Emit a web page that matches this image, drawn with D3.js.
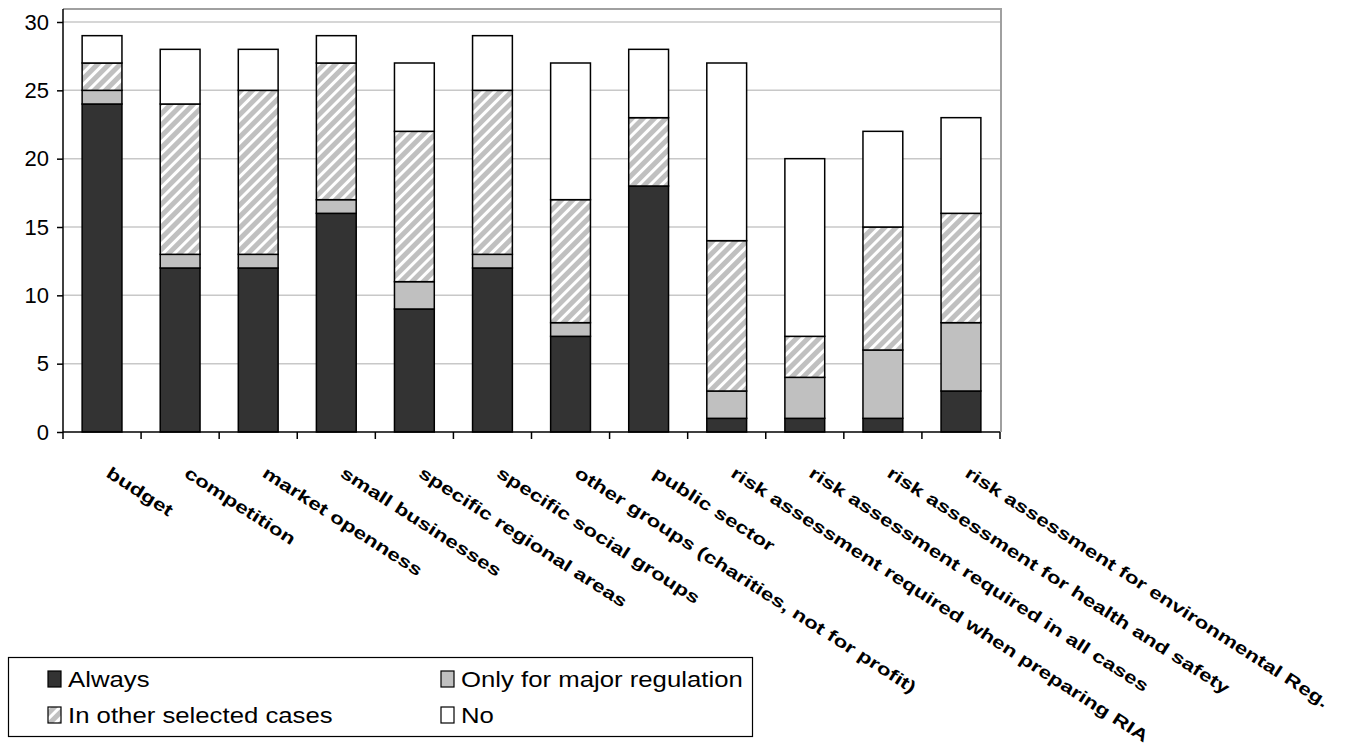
<!DOCTYPE html>
<html>
<head>
<meta charset="utf-8">
<script src="https://cdn.jsdelivr.net/npm/d3@7"></script>
<style>
  html, body { margin: 0; padding: 0; background: #fff; }
  svg { display: block; }
</style>
</head>
<body>
<svg id="chart" width="1352" height="747"></svg>
<script>
// Stacked counts per impact area
const categories = [
  "budget",
  "competition",
  "market openness",
  "small businesses",
  "specific regional areas",
  "specific social groups",
  "other groups (charities, not for profit)",
  "public sector",
  "risk assessment required when preparing RIA",
  "risk assessment required in all cases",
  "risk assessment for health and safety",
  "risk assessment for environmental Reg."
];
const seriesNames = ["Always", "Only for major regulation", "In other selected cases", "No"];
const always       = [24, 12, 12, 16,  9, 12,  7, 18,  1,  1,  1,  3];
const onlyMajor    = [ 1,  1,  1,  1,  2,  1,  1,  0,  2,  3,  5,  5];
const otherCases   = [ 2, 11, 12, 10, 11, 12,  9,  5, 11,  3,  9,  8];
const no           = [ 2,  4,  3,  2,  5,  4, 10,  5, 13, 13,  7,  7];
const yTicks = [0, 5, 10, 15, 20, 25, 30];

const svg = d3.select("#chart");

// Pattern for the hatched series
const defs = svg.append("defs");
const pat = defs.append("pattern")
  .attr("id", "hatch")
  .attr("patternUnits", "userSpaceOnUse")
  .attr("width", 8).attr("height", 8)
  .attr("patternTransform", "rotate(45)");
pat.append("rect").attr("width", 8).attr("height", 8).attr("fill", "#ffffff");
pat.append("rect").attr("x", 0).attr("width", 5).attr("height", 8).attr("fill", "#c0c0c0");

const fills = ["#333333", "#c0c0c0", "url(#hatch)", "#ffffff"];

const plot = { left: 63, right: 1000, top: 9, bottom: 432 };

const x = d3.scaleBand()
  .domain(categories)
  .range([plot.left, plot.right])
  .paddingInner(0.49)
  .paddingOuter(0.245);

const y = d3.scaleLinear()
  .domain([0, 30])
  .range([plot.bottom, 22]);

// Gridlines
svg.append("g")
  .selectAll("line")
  .data(yTicks.filter(d => d > 0))
  .join("line")
  .attr("x1", plot.left).attr("x2", plot.right)
  .attr("y1", d => y(d)).attr("y2", d => y(d))
  .attr("stroke", "#c8c8c8").attr("stroke-width", 1.5);

// Plot frame (top and right)
svg.append("path")
  .attr("d", `M${plot.left},${plot.top}H${plot.right + 1}V${plot.bottom}`)
  .attr("fill", "none").attr("stroke", "#a0a0a0").attr("stroke-width", 2);

// Stack data
const rows = categories.map((c, i) => ({
  cat: c,
  [seriesNames[0]]: always[i],
  [seriesNames[1]]: onlyMajor[i],
  [seriesNames[2]]: otherCases[i],
  [seriesNames[3]]: no[i]
}));
const stacked = d3.stack().keys(seriesNames)(rows);

svg.append("g")
  .selectAll("g")
  .data(stacked)
  .join("g")
  .attr("fill", (d, i) => fills[i])
  .selectAll("rect")
  .data(d => d.filter(s => s[1] - s[0] > 0))
  .join("rect")
  .attr("x", d => x(d.data.cat))
  .attr("width", x.bandwidth())
  .attr("y", d => y(d[1]))
  .attr("height", d => y(d[0]) - y(d[1]))
  .attr("stroke", "#000")
  .attr("stroke-width", 1.5);

// Y axis
const yAxis = svg.append("g")
  .attr("transform", `translate(${plot.left},0)`)
  .call(d3.axisLeft(y).tickValues(yTicks).tickSize(6).tickPadding(8).tickSizeOuter(0));
yAxis.select(".domain").attr("d", `M0,${plot.top}V${plot.bottom}`).attr("stroke", "#000").attr("stroke-width", 1.5);
yAxis.selectAll(".tick line").attr("stroke", "#000").attr("stroke-width", 1.5);
yAxis.selectAll(".tick text")
  .attr("font-family", "'Liberation Sans', Arial, sans-serif")
  .attr("font-size", 22)
  .attr("fill", "#000");

// X axis: baseline with ticks at category boundaries
const xg = svg.append("g");
xg.append("line")
  .attr("x1", plot.left).attr("x2", plot.right)
  .attr("y1", plot.bottom).attr("y2", plot.bottom)
  .attr("stroke", "#000").attr("stroke-width", 1.5);
const bounds = d3.range(categories.length + 1).map(i => plot.left + i * (plot.right - plot.left) / categories.length);
xg.selectAll("line.tk")
  .data(bounds)
  .join("line")
  .attr("class", "tk")
  .attr("x1", d => d).attr("x2", d => d)
  .attr("y1", plot.bottom).attr("y2", plot.bottom + 7)
  .attr("stroke", "#000").attr("stroke-width", 1.5);

// Rotated category labels
xg.selectAll("text")
  .data(categories)
  .join("text")
  .attr("transform", d => `translate(${x(d) + x.bandwidth() / 2 + 3},476) rotate(32.8) scale(1.33,1)`)
  .attr("font-family", "'Liberation Sans', Arial, sans-serif")
  .attr("font-weight", "bold")
  .attr("font-size", 17)
  .attr("fill", "#000")
  .text(d => d);

// Legend
const lg = svg.append("g");
lg.append("rect")
  .attr("x", 8.5).attr("y", 657.5).attr("width", 744).attr("height", 79)
  .attr("fill", "#fff").attr("stroke", "#000").attr("stroke-width", 1.2);
const legendPos = [
  { sx: 48, ty: 679 }, { sx: 441, ty: 679 },
  { sx: 48, ty: 715 }, { sx: 441, ty: 715 }
];
[0, 1, 2, 3].forEach((si, k) => {
  const p = legendPos[k];
  lg.append("rect")
    .attr("x", p.sx).attr("y", p.ty - 8).attr("width", 13).attr("height", 16)
    .attr("fill", fills[si]).attr("stroke", "#000").attr("stroke-width", 1.2);
  lg.append("text")
    .attr("transform", `translate(${p.sx + 20},${p.ty + 8}) scale(1.17,1)`)
    .attr("font-family", "'Liberation Sans', Arial, sans-serif")
    .attr("font-size", 22)
    .attr("fill", "#000")
    .text(seriesNames[si]);
});
</script>
</body>
</html>
